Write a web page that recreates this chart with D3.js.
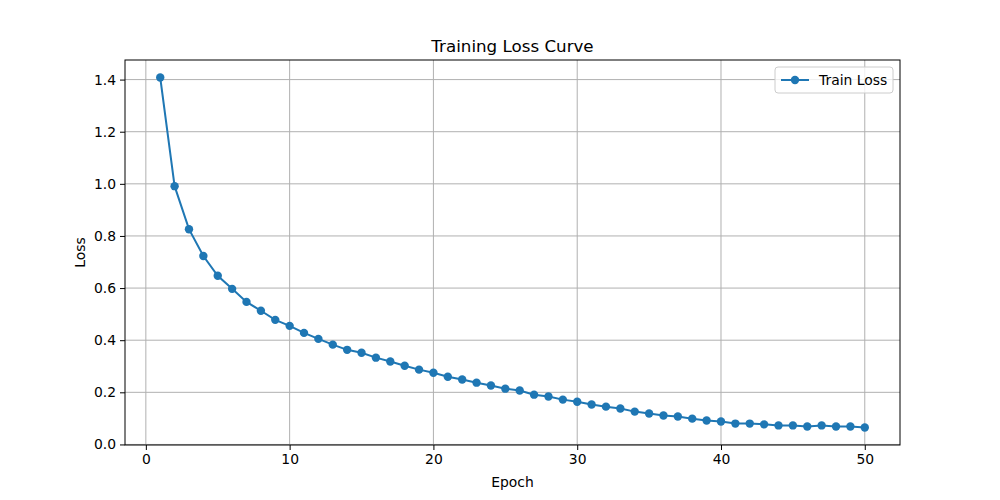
<!DOCTYPE html>
<html>
<head>
<meta charset="utf-8">
<script src="https://cdn.jsdelivr.net/npm/d3@7"></script>
<style>
  body { margin: 0; background: #fff; }
  text { font-family: "DejaVu Sans", sans-serif; }
</style>
</head>
<body>
<div id="chart"></div>
<script>
// train loss per epoch
const epochs = d3.range(1, 51);
const trainLoss = [
  1.408, 0.991, 0.826, 0.723, 0.647, 0.597, 0.547, 0.513, 0.478, 0.455,
  0.428, 0.405, 0.383, 0.363, 0.352, 0.333, 0.318, 0.302, 0.287, 0.275,
  0.260, 0.249, 0.237, 0.226, 0.214, 0.207, 0.191, 0.184, 0.172, 0.164,
  0.153, 0.145, 0.138, 0.126, 0.119, 0.111, 0.107, 0.099, 0.092, 0.088,
  0.080, 0.080, 0.077, 0.073, 0.073, 0.069, 0.073, 0.069, 0.069, 0.065
];
const xTicks = [0, 10, 20, 30, 40, 50];
const yTicks = [0, 0.2, 0.4, 0.6, 0.8, 1.0, 1.2, 1.4];

const width = 1000, height = 500,
      margin = {top: 60, right: 100, bottom: 55, left: 125},
      plotW = width - margin.left - margin.right,
      plotH = height - margin.top - margin.bottom,
      color = '#1f77b4',
      fs = 13.9;

const svg = d3.select('#chart').append('svg')
  .attr('width', width).attr('height', height);
const plot = svg.append('g')
  .attr('transform', `translate(${margin.left},${margin.top})`);

// matplotlib-style 5% margins
const xPad = (d3.max(epochs) - d3.min(epochs)) * 0.05;
const yMin = d3.min(trainLoss), yMax = d3.max(trainLoss), yPad = (yMax - yMin) * 0.05;
const x = d3.scaleLinear().domain([d3.min(epochs) - xPad, d3.max(epochs) + xPad]).range([0, plotW]);
const y = d3.scaleLinear().domain([Math.min(0, yMin - yPad), yMax + yPad]).range([plotH, 0]);

// grid
plot.append('g').selectAll('line').data(xTicks).enter().append('line')
  .attr('x1', d => x(d)).attr('x2', d => x(d)).attr('y1', 0).attr('y2', plotH)
  .attr('stroke', '#b0b0b0').attr('stroke-width', 1);
plot.append('g').selectAll('line').data(yTicks).enter().append('line')
  .attr('y1', d => y(d)).attr('y2', d => y(d)).attr('x1', 0).attr('x2', plotW)
  .attr('stroke', '#b0b0b0').attr('stroke-width', 1);

// axes
const xAxis = plot.append('g').attr('transform', `translate(0,${plotH})`)
  .call(d3.axisBottom(x).tickValues(xTicks).tickSize(5).tickPadding(4).tickFormat(d3.format('d')));
const yAxis = plot.append('g')
  .call(d3.axisLeft(y).tickValues(yTicks).tickSize(5).tickPadding(4).tickFormat(d3.format('.1f')));
[xAxis, yAxis].forEach(a => {
  a.select('.domain').remove();
  a.selectAll('text').attr('font-size', fs).attr('fill', '#000')
    .style('font-family', '"DejaVu Sans", sans-serif');
  a.selectAll('.tick line').attr('stroke', '#000').attr('stroke-width', 1);
});

plot.append('rect').attr('width', plotW).attr('height', plotH)
  .attr('fill', 'none').attr('stroke', '#000').attr('stroke-width', 1);

// line + markers
const pts = epochs.map((e, i) => [e, trainLoss[i]]);
plot.append('path').datum(pts)
  .attr('d', d3.line().x(d => x(d[0])).y(d => y(d[1])))
  .attr('fill', 'none').attr('stroke', color).attr('stroke-width', 2);
plot.append('g').selectAll('circle').data(pts).enter().append('circle')
  .attr('cx', d => x(d[0])).attr('cy', d => y(d[1])).attr('r', 4.2).attr('fill', color);

// labels
svg.append('text').attr('x', margin.left + plotW / 2).attr('y', margin.top - 8)
  .attr('text-anchor', 'middle').attr('font-size', 16.7).text('Training Loss Curve');
svg.append('text').attr('x', margin.left + plotW / 2).attr('y', height - 13)
  .attr('text-anchor', 'middle').attr('font-size', fs).text('Epoch');
svg.append('text').attr('transform', `translate(85,${margin.top + plotH / 2}) rotate(-90)`)
  .attr('text-anchor', 'middle').attr('font-size', fs).text('Loss');

// legend
const lg = plot.append('g').attr('transform', `translate(${plotW - 125},7)`);
lg.append('rect').attr('width', 118).attr('height', 26).attr('rx', 3)
  .attr('fill', '#fff').attr('fill-opacity', 0.8).attr('stroke', '#ccc');
lg.append('line').attr('x1', 6).attr('x2', 34).attr('y1', 13).attr('y2', 13)
  .attr('stroke', color).attr('stroke-width', 2);
lg.append('circle').attr('cx', 20).attr('cy', 13).attr('r', 4.2).attr('fill', color);
lg.append('text').attr('x', 44).attr('y', 18).attr('font-size', fs).text('Train Loss');
</script>
</body>
</html>
